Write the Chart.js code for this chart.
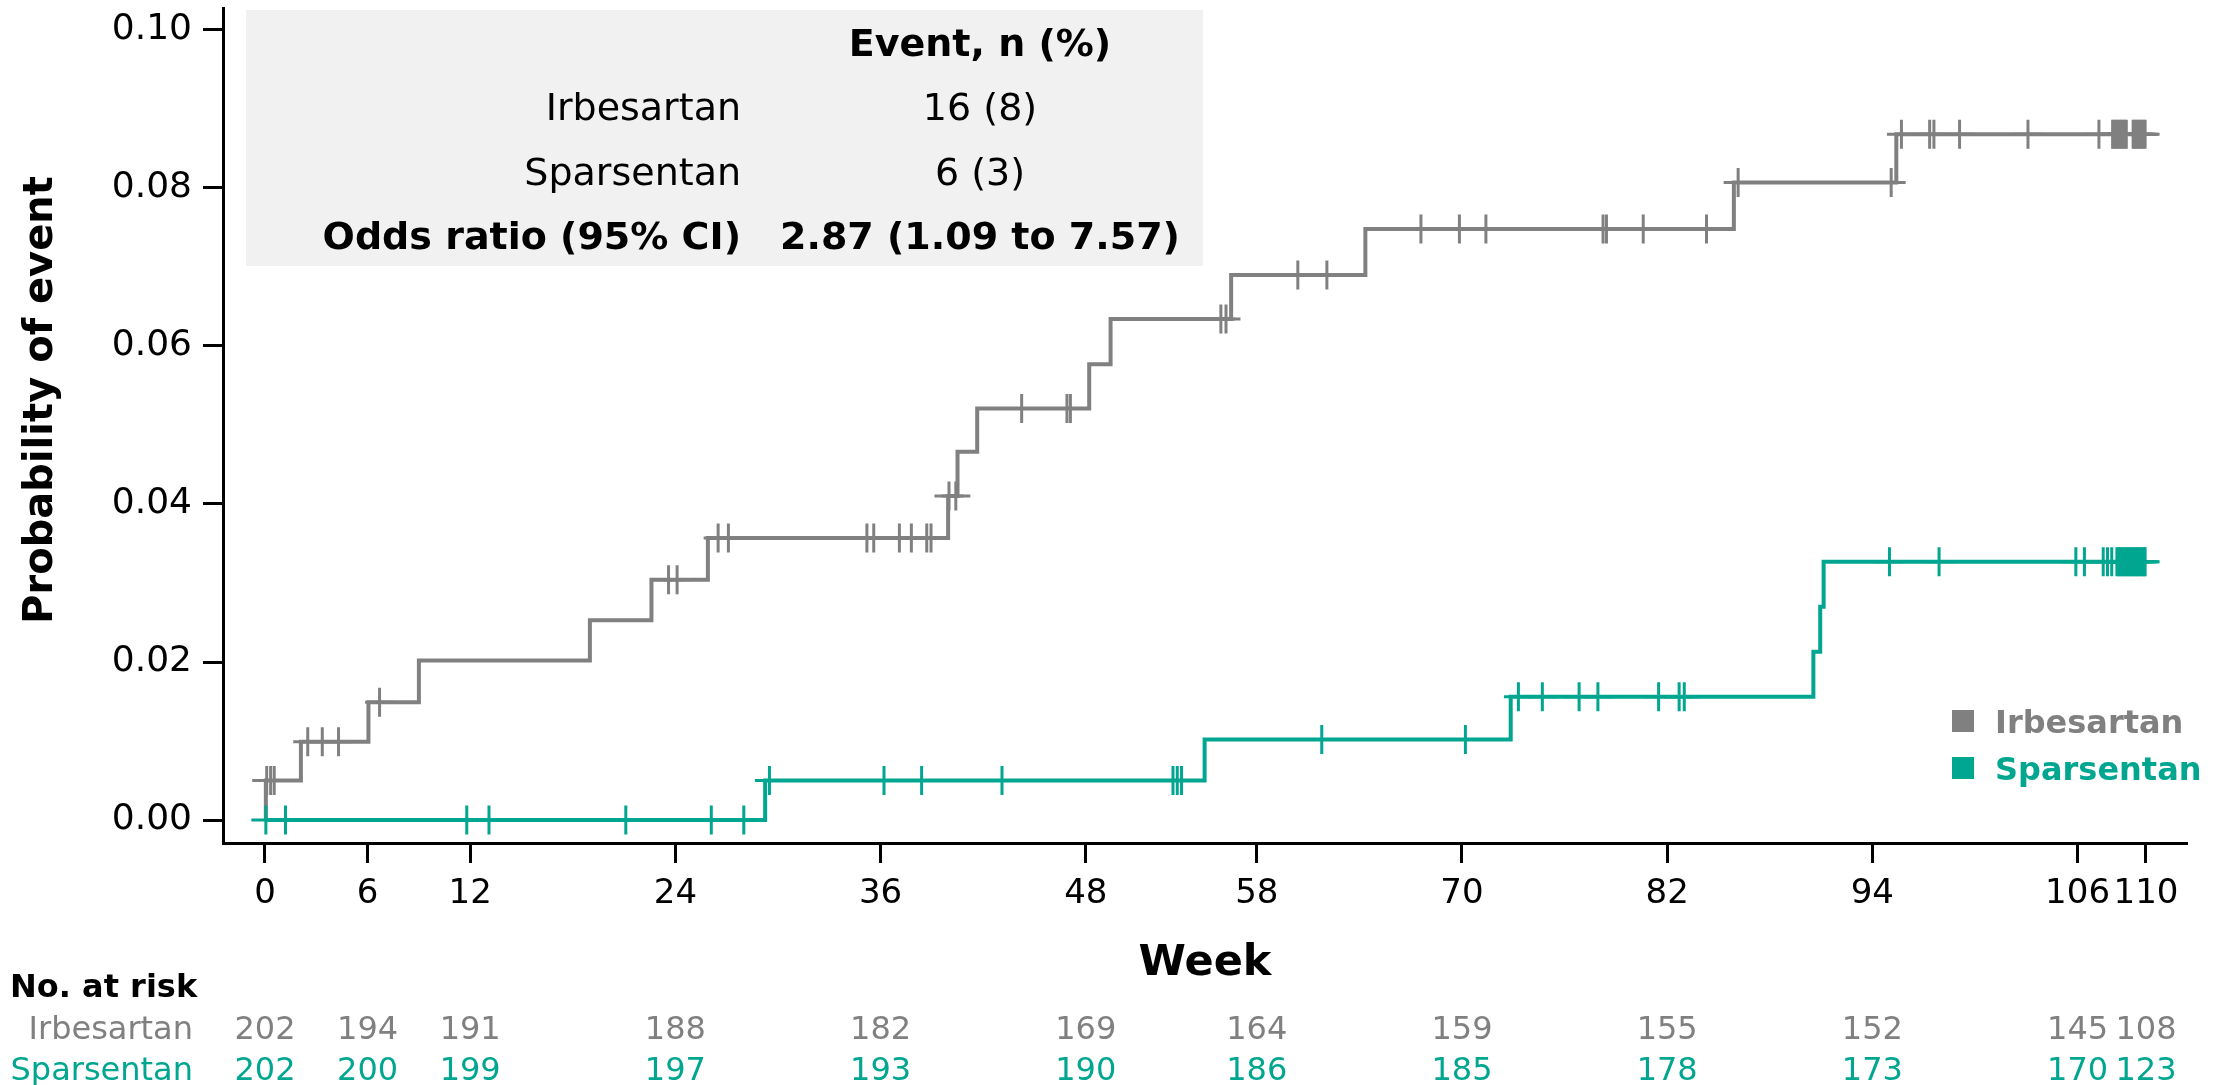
<!DOCTYPE html>
<html>
<head>
<meta charset="utf-8">
<title>Probability of event by week</title>
<script src="https://cdn.jsdelivr.net/npm/chart.js@4.4.1/dist/chart.umd.min.js"></script>
<style>
  html, body { margin: 0; padding: 0; background: #ffffff; }
  canvas { display: block; }
</style>
</head>
<body>
<canvas id="km" width="2225" height="1085"></canvas>
<script>
const GREY = '#808080';
const TEAL = '#00a690';
const FONT = "'DejaVu Sans', Verdana, sans-serif";

// Axis ticks
const weekTicks = [0, 6, 12, 24, 36, 48, 58, 70, 82, 94, 106, 110];
const probTicks = [0, 0.02, 0.04, 0.06, 0.08, 0.10];

// Irbesartan: event weeks and cumulative probability after each event
const irbEventWeeks = [0.05, 2.1, 6.05, 9.0, 19.0, 22.6, 25.9, 39.95, 40.5, 41.65, 48.2, 49.45, 56.5, 64.35, 85.9, 95.4];
const irbEventProb  = [0.0050, 0.0099, 0.0149, 0.0202, 0.0253, 0.0304, 0.0357, 0.0410, 0.0466, 0.0521, 0.0577, 0.0634, 0.0690, 0.0748, 0.0807, 0.0868];
// Irbesartan: censoring weeks
const irbCensorWeeks = [0.1, 0.33, 0.54, 2.5, 3.35, 4.3, 6.7, 23.6, 24.1, 26.5, 27.1, 35.2, 35.6, 37.1, 37.8, 38.7, 38.95,
  40.0, 40.4, 44.25, 46.9, 47.1, 55.9, 56.2, 60.4, 62.1, 67.6, 69.85, 71.4, 78.25, 78.45, 80.6, 84.3, 86.15, 95.1,
  95.7, 97.35, 97.6, 99.1, 103.1, 107.25,
  108.05, 108.15, 108.25, 108.35, 108.45, 108.55, 108.65, 108.75, 108.85,
  109.25, 109.35, 109.45, 109.55, 109.65, 109.75, 109.85, 109.95];
const irbLastWeek = 109.95;

// Sparsentan: event weeks and cumulative probability after each event
const sprEventWeeks = [29.25, 54.95, 72.85, 90.55, 90.95, 91.15];
const sprEventProb  = [0.0050, 0.0102, 0.0156, 0.0213, 0.0270, 0.0327];
// Sparsentan: censoring weeks
const sprCensorWeeks = [0.05, 1.2, 11.8, 13.1, 21.1, 26.1, 28.0, 29.5, 36.2, 38.4, 43.1, 53.1, 53.35, 53.6, 61.8, 70.2,
  73.3, 74.7, 76.85, 77.95, 81.5, 82.7, 83.0, 95.0, 97.9, 105.9, 106.4, 107.5, 107.75, 108.0,
  108.3, 108.4, 108.5, 108.6, 108.7, 108.8, 108.9, 109.0, 109.1, 109.2, 109.3, 109.4, 109.5, 109.6,
  109.7, 109.8, 109.9, 109.95];
const sprLastWeek = 109.95;

// Number at risk at each week tick
const irbAtRisk = [202, 194, 191, 188, 182, 169, 164, 159, 155, 152, 145, 108];
const sprAtRisk = [202, 200, 199, 197, 193, 190, 186, 185, 178, 173, 170, 123];

// Summary box
const summaryHeader = 'Event, n (%)';
const summaryLabels = ['Irbesartan', 'Sparsentan', 'Odds ratio (95% CI)'];
const summaryValues = ['16 (8)', '6 (3)', '2.87 (1.09 to 7.57)'];

const seriesNames = ['Irbesartan', 'Sparsentan'];

// Build step curve points: start at 0, one point per event, hold to last follow-up
function stepPoints(eventWeeks, eventProb, lastWeek) {
  const pts = [{ x: 0, y: 0 }];
  eventWeeks.forEach((w, i) => pts.push({ x: w, y: eventProb[i] }));
  pts.push({ x: lastWeek, y: eventProb[eventProb.length - 1] });
  return pts;
}
// Place each censoring mark on the curve level in force at that week
function censorPoints(censorWeeks, eventWeeks, eventProb) {
  return censorWeeks.map(w => {
    let level = 0;
    eventWeeks.forEach((e, i) => { if (e <= w) level = eventProb[i]; });
    return { x: w, y: level };
  });
}

const overlay = {
  id: 'kmOverlay',
  beforeDatasetsDraw(chart) {
    const ctx = chart.ctx;
    ctx.save();
    ctx.fillStyle = '#f1f1f1';
    ctx.fillRect(246, 10, 957, 256);
    ctx.restore();
  },
  afterDraw(chart) {
    const ctx = chart.ctx;
    const xs = chart.scales.x;
    const area = chart.chartArea;
    ctx.save();
    ctx.textBaseline = 'alphabetic';

    // Summary table
    ctx.fillStyle = '#000';
    ctx.textAlign = 'center';
    ctx.font = `bold 38px ${FONT}`;
    ctx.fillText(summaryHeader, 980, 56);
    const rowY = [120, 185, 249];
    summaryLabels.forEach((lab, i) => {
      const bold = i === 2;
      ctx.font = `${bold ? 'bold ' : ''}38px ${FONT}`;
      ctx.textAlign = 'right';
      ctx.fillText(lab, 741, rowY[i]);
      ctx.textAlign = 'center';
      ctx.fillText(summaryValues[i], 980, rowY[i]);
    });

    // Legend
    const legendColors = [GREY, TEAL];
    const legendY = [710, 757];
    ctx.font = `bold 32px ${FONT}`;
    ctx.textAlign = 'left';
    seriesNames.forEach((name, i) => {
      ctx.fillStyle = legendColors[i];
      ctx.fillRect(1952, legendY[i], 22, 22);
      ctx.fillText(name, 1995, legendY[i] + 23);
    });

    // Axis titles
    ctx.fillStyle = '#000';
    ctx.textAlign = 'center';
    ctx.font = `bold 43px ${FONT}`;
    ctx.fillText('Week', (area.left + area.right) / 2, 975);
    ctx.save();
    ctx.translate(52, 400);
    ctx.rotate(-Math.PI / 2);
    ctx.font = `bold 40px ${FONT}`;
    ctx.fillText('Probability of event', 0, 0);
    ctx.restore();

    // Number at risk table
    ctx.textAlign = 'left';
    ctx.font = `bold 32px ${FONT}`;
    ctx.fillStyle = '#000';
    ctx.fillText('No. at risk', 10, 997);
    const riskRows = [[irbAtRisk, GREY, 1039], [sprAtRisk, TEAL, 1080]];
    ctx.font = `32px ${FONT}`;
    riskRows.forEach(([vals, color, y], r) => {
      ctx.fillStyle = color;
      ctx.textAlign = 'right';
      ctx.fillText(seriesNames[r], 193, y);
      ctx.textAlign = 'center';
      vals.forEach((v, i) => ctx.fillText(String(v), xs.getPixelForValue(weekTicks[i]), y));
    });
    ctx.restore();
  }
};

const axisGrid = { drawOnChartArea: false, drawTicks: true, tickLength: 20, tickWidth: 3, tickColor: '#000' };
const axisBorder = { display: true, color: '#000', width: 3 };

new Chart(document.getElementById('km'), {
  type: 'line',
  data: {
    datasets: [
      { label: 'Sparsentan', data: stepPoints(sprEventWeeks, sprEventProb, sprLastWeek),
        borderColor: TEAL, borderWidth: 4, stepped: 'before', pointRadius: 0, fill: false },
      { label: 'Sparsentan censored', data: censorPoints(sprCensorWeeks, sprEventWeeks, sprEventProb),
        showLine: false, pointStyle: 'cross', pointRadius: 14.5, pointBorderWidth: 3,
        pointBorderColor: TEAL, borderColor: TEAL, pointHoverRadius: 14.5 },
      { label: 'Irbesartan', data: stepPoints(irbEventWeeks, irbEventProb, irbLastWeek),
        borderColor: GREY, borderWidth: 4, stepped: 'before', pointRadius: 0, fill: false },
      { label: 'Irbesartan censored', data: censorPoints(irbCensorWeeks, irbEventWeeks, irbEventProb),
        showLine: false, pointStyle: 'cross', pointRadius: 14.5, pointBorderWidth: 3,
        pointBorderColor: GREY, borderColor: GREY, pointHoverRadius: 14.5 }
    ]
  },
  options: {
    responsive: false,
    animation: false,
    devicePixelRatio: 1,
    layout: { padding: { left: 0, top: 8, right: 38, bottom: 0 }, autoPadding: false },
    plugins: { legend: { display: false }, tooltip: { enabled: false } },
    scales: {
      x: {
        type: 'linear', min: -2.456, max: 112.4,
        afterBuildTicks: s => { s.ticks = weekTicks.map(v => ({ value: v })); },
        afterFit: s => { s.height = 242; s.paddingLeft = 0; s.paddingRight = 0; },
        grid: axisGrid, border: axisBorder,
        ticks: { color: '#000', font: { family: FONT, size: 34 }, padding: 11, maxRotation: 0, minRotation: 0,
                 autoSkip: false, callback: v => String(v) }
      },
      y: {
        type: 'linear', min: -0.00291, max: 0.10278,
        afterBuildTicks: s => { s.ticks = probTicks.map(v => ({ value: v })); },
        afterFit: s => { s.width = 223; s.paddingTop = 0; s.paddingBottom = 0; },
        grid: axisGrid, border: axisBorder,
        ticks: { color: '#000', font: { family: FONT, size: 36 }, padding: 11,
                 callback: v => Number(v).toFixed(2) }
      }
    }
  },
  plugins: [overlay]
});
</script>
</body>
</html>
